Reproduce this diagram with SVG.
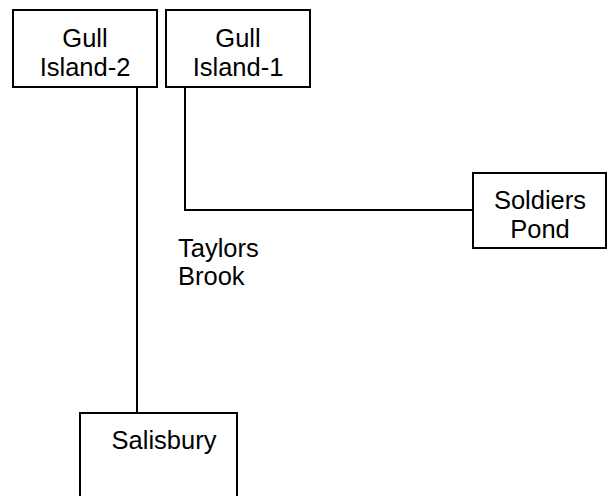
<svg xmlns="http://www.w3.org/2000/svg" width="607" height="496" viewBox="0 0 607 496">
<style>
.box{fill:#fff;stroke:#000;stroke-width:2}
.t{font-family:"Liberation Sans",Arial,sans-serif;font-size:25.5px;fill:#000}
.c{text-anchor:middle}
.ln{fill:none;stroke:#000;stroke-width:2}
</style>
<rect width="607" height="496" fill="#fff"/>
<g id="connectors">
<path class="ln" d="M137 87 V413"/>
<path class="ln" d="M185 87 V210 H473"/>
</g>
<g id="gull2">
<rect class="box" x="13" y="10" width="144" height="77"/>
<text class="t c" x="85" y="47">Gull</text>
<text class="t c" x="85" y="75.5">Island-2</text>
</g>
<g id="gull1">
<rect class="box" x="166" y="10" width="144" height="77"/>
<text class="t c" x="238" y="47">Gull</text>
<text class="t c" x="238" y="75.5">Island-1</text>
</g>
<g id="soldiers">
<rect class="box" x="473" y="173" width="133" height="75"/>
<text class="t c" x="540" y="209">Soldiers</text>
<text class="t c" x="540" y="237.5">Pond</text>
</g>
<g id="taylors">
<text class="t" x="178" y="257">Taylors</text>
<text class="t" x="178" y="285">Brook</text>
</g>
<g id="salisbury">
<rect class="box" x="80" y="413" width="157" height="90"/>
<text class="t c" x="164" y="449">Salisbury</text>
</g>
</svg>
